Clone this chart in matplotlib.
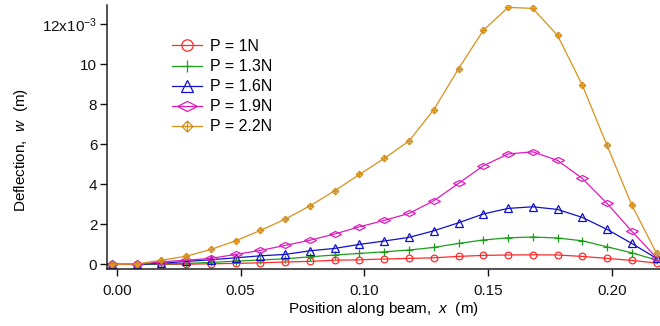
import matplotlib
matplotlib.use("Agg")
import matplotlib.pyplot as plt
from matplotlib.path import Path
from matplotlib.markers import MarkerStyle
from matplotlib.transforms import Affine2D

plt.rcParams['font.family'] = ['Liberation Sans', 'DejaVu Sans']
plt.rcParams['mathtext.fontset'] = 'custom'
plt.rcParams['mathtext.it'] = 'Liberation Sans:italic'
plt.rcParams['mathtext.rm'] = 'Liberation Sans'

# position along the beam (m)
x_pos = [-0.002, 0.008, 0.018, 0.028, 0.038, 0.048, 0.058, 0.068, 0.078, 0.088,
         0.098, 0.108, 0.118, 0.128, 0.138, 0.148, 0.158, 0.168, 0.178, 0.188,
         0.198, 0.208, 0.218]

# deflection in units of 1e-3 m
w_1_0 = [0, 0, 0, 0.01, 0.03, 0.05, 0.08, 0.12, 0.15, 0.21, 0.23, 0.27, 0.30,
         0.33, 0.40, 0.45, 0.47, 0.48, 0.47, 0.40, 0.30, 0.20, 0.07]
w_1_3 = [0, 0, 0.02, 0.05, 0.10, 0.16, 0.22, 0.28, 0.38, 0.47, 0.55, 0.63, 0.72,
         0.85, 1.05, 1.22, 1.33, 1.37, 1.32, 1.18, 0.88, 0.58, 0.22]
w_1_6 = [0, 0, 0.05, 0.15, 0.23, 0.33, 0.43, 0.50, 0.68, 0.80, 1.00, 1.17, 1.35,
         1.68, 2.08, 2.52, 2.80, 2.88, 2.75, 2.35, 1.75, 1.05, 0.30]
w_1_9 = [0, 0, 0.13, 0.21, 0.30, 0.50, 0.70, 0.95, 1.21, 1.52, 1.88, 2.20, 2.55,
         3.18, 4.05, 4.93, 5.52, 5.63, 5.20, 4.30, 3.05, 1.66, 0.33]
w_2_2 = [0, 0.02, 0.21, 0.41, 0.75, 1.18, 1.70, 2.26, 2.93, 3.68, 4.50, 5.30, 6.17,
         7.73, 9.78, 11.70, 12.85, 12.80, 11.45, 8.97, 5.95, 2.97, 0.55]

labels = ['P = 1N', 'P = 1.3N', 'P = 1.6N', 'P = 1.9N', 'P = 2.2N']
colors = ['#ff2a2a', '#1c9e1c', '#1010c8', '#dc1cbc', '#d8901c']

# Igor-like markers
wide_diamond = MarkerStyle('d', transform=Affine2D().rotate_deg(90).scale(1.0, 0.8))
cross_diamond = Path(
    [(0, 1), (1, 0), (0, -1), (-1, 0), (0, 1), (0, 1), (0, -1), (-1, 0), (1, 0)],
    [Path.MOVETO, Path.LINETO, Path.LINETO, Path.LINETO, Path.CLOSEPOLY,
     Path.MOVETO, Path.LINETO, Path.MOVETO, Path.LINETO])
markers = ['o', '+', '^', wide_diamond, cross_diamond]
msizes = [4.8, 5.5, 5.2, 5.8, 4.6]

fig = plt.figure(figsize=(6.6, 3.26), dpi=100)
ax = fig.add_axes([107 / 660, 57 / 326, 553 / 660, 264 / 326])

series = [w_1_0, w_1_3, w_1_6, w_1_9, w_2_2]
for ys, lab, c, m, ms in zip(series, labels, colors, markers, msizes):
    ax.plot(x_pos, ys, color=c, lw=0.9, marker=m, ms=ms, mfc='none',
            mec=c, mew=0.9, label=lab)

ax.set_xlim(-0.0040, 0.2194)
ax.set_ylim(-0.23, 12.97)

ax.set_xticks([0.0, 0.05, 0.10, 0.15, 0.20])
ax.set_xticklabels(['0.00', '0.05', '0.10', '0.15', '0.20'])
ax.set_yticks([0, 2, 4, 6, 8, 10, 12])
ax.set_yticklabels(['0', '2', '4', '6', '8', '10', '12x10$^{\\mathregular{-3}}$'])

for s in ['top', 'right']:
    ax.spines[s].set_visible(False)
for s in ['left', 'bottom']:
    ax.spines[s].set_linewidth(1.1)
    ax.spines[s].set_color('#222222')

ax.tick_params(direction='out', length=5, width=1, labelsize=11, colors='#111111')
ax.tick_params(axis='x', pad=6)
ax.tick_params(axis='y', pad=2)

ax.set_xlabel('Position along beam,  $x$  (m)', fontsize=11, labelpad=1)
ax.set_ylabel('Deflection,  $w$  (m)', fontsize=11)
ax.yaxis.set_label_coords(-0.139, 0.45)

ax.legend(loc='upper left', bbox_to_anchor=(172 / 660, 1 - 39 / 326),
          bbox_transform=fig.transFigure, frameon=False, fontsize=11.5,
          handlelength=1.9, handletextpad=0.5, labelspacing=0.32,
          borderpad=0, borderaxespad=0, markerscale=1.7)

fig.savefig('out.png', dpi=100)
